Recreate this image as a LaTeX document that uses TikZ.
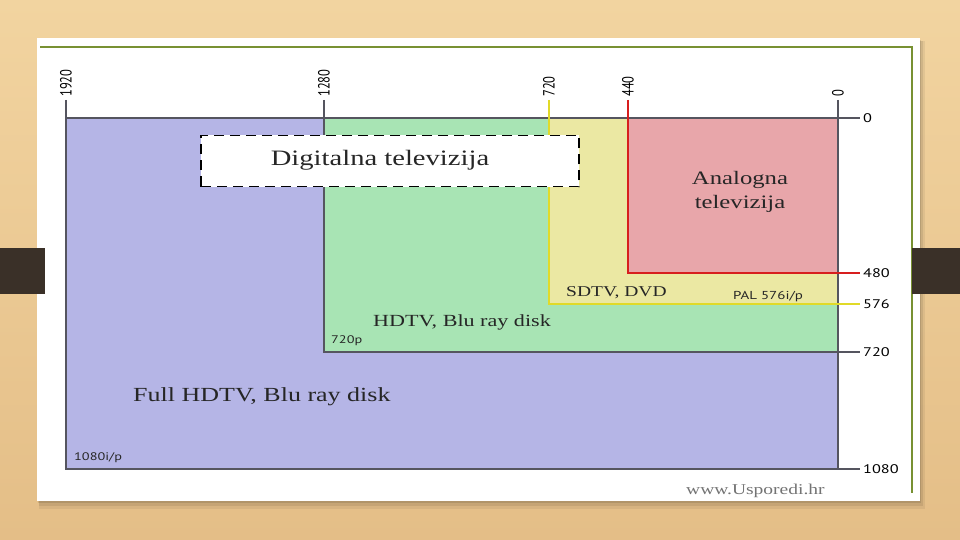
\documentclass[tikz,border=0pt]{standalone}
\usepackage{fontspec}
\setmainfont{Liberation Serif}
\newfontfamily\serifw[FakeStretch=1.3]{Liberation Serif}
\newfontfamily\sansw[FakeStretch=1.3]{PT Sans}
\newfontfamily\sansn{PT Sans}
\definecolor{woodtop}{RGB}{242,212,160}
\definecolor{woodbot}{RGB}{228,190,135}
\definecolor{band}{RGB}{58,48,40}
\definecolor{olive}{RGB}{120,145,50}
\definecolor{fhd}{RGB}{181,181,230}
\definecolor{hd}{RGB}{168,228,180}
\definecolor{sd}{RGB}{235,232,163}
\definecolor{an}{RGB}{232,166,170}
\definecolor{frame}{RGB}{85,85,95}
\definecolor{redl}{RGB}{215,30,30}
\definecolor{yell}{RGB}{225,218,40}
\tikzset{
  darkline/.style={draw=frame, line width=1.1pt},
  redline/.style={draw=redl, line width=1.8pt},
  yline/.style={draw=yell, line width=1.8pt},
  toplab/.style={rotate=90, anchor=west, inner sep=0pt, font=\sansn\fontsize{12.5}{14}\selectfont},
  rightlab/.style={anchor=west, inner sep=0pt, font=\sansw\fontsize{12.5}{14}\selectfont},
  serlab/.style={inner sep=0pt, text=black!85},
  smalllab/.style={anchor=south west, inner sep=0pt, font=\sansw\fontsize{11}{13}\selectfont, text=black!85},
}
\begin{document}
\begin{tikzpicture}[x=1pt,y=-1pt]
\useasboundingbox (0,0) rectangle (960,540);
% background
\shade[top color=woodtop, bottom color=woodbot] (0,0) rectangle (960,540);
% card shadow (soft)
\fill[black, opacity=0.06] (39,41) rectangle (925,509);
\fill[black, opacity=0.08] (39,41) rectangle (923,506);
\fill[black, opacity=0.10] (38,40) rectangle (921,503);
\fill[white] (37,38) rectangle (920,501);
% olive frame lines
\draw[olive, line width=1.2pt] (40,47) -- (912,47) -- (912,493);
% dark bands
\fill[band] (0,248) rectangle (45,294);
\fill[band] (912,248) rectangle (960,294);
% rectangles
\fill[fhd] (66,118) rectangle (838,469);
\fill[hd] (324,118) rectangle (838,352);
\fill[sd] (549,118) rectangle (838,304);
\fill[an] (628,118) rectangle (838,273);
% dark lines
\draw[darkline] (66,100) -- (66,469) -- (860,469);
\draw[darkline] (838,100) -- (838,469);
\draw[darkline] (66,118) -- (860,118);
\draw[darkline] (324,100) -- (324,352) -- (860,352);
\draw[yline] (549,100) -- (549,304) -- (860,304);
\draw[redline] (628,100) -- (628,273) -- (860,273);
% top labels
\node[toplab] (t1920) at (66,97) {\scalebox{1}[1.3]{1920}};
\node[toplab] (t1280) at (324,97) {\scalebox{1}[1.3]{1280}};
\node[toplab] (t720) at (549,97) {\scalebox{1}[1.3]{720}};
\node[toplab] (t440) at (628,97) {\scalebox{1}[1.3]{440}};
\node[toplab] (t0) at (838,97) {\scalebox{1}[1.3]{0}};
% right labels
\node[rightlab] (r0) at (863,118) {0};
\node[rightlab] (r480) at (863,273) {480};
\node[rightlab] (r576) at (863,304) {576};
\node[rightlab] (r720) at (863,352) {720};
\node[rightlab] (r1080) at (863,469) {1080};
% digital box
\node[draw=black, fill=white, dash pattern=on 10pt off 6pt, line width=1.4pt,
      minimum width=378pt, minimum height=51pt, inner sep=0pt] (digbox) at (390,161) {};
\node[serlab, font=\serifw\fontsize{22}{24}\selectfont] (dig) at (380,160) {Digitalna televizija};
% labels
\node[serlab, align=center, font=\serifw\fontsize{19}{24}\selectfont] (analog) at (740,192) {Analogna\\televizija};
\node[serlab, anchor=base west, font=\serifw\fontsize{15}{18}\selectfont] (sdtv) at (566,296) {SDTV, DVD};
\node[smalllab, anchor=base west, font=\sansw\fontsize{11.5}{13}\selectfont] (pal) at (733,299) {PAL 576i/p};
\node[serlab, anchor=base west, font=\serifw\fontsize{17}{20}\selectfont] (hdtv) at (373,326) {HDTV, Blu ray disk};
\node[smalllab, anchor=base west] (p720) at (331,343) {720p};
\node[serlab, anchor=base west, font=\serifw\fontsize{20}{24}\selectfont] (fhdtv) at (133,401) {Full HDTV, Blu ray disk};
\node[smalllab, anchor=base west] (p1080) at (74,460) {1080i/p};
\node[inner sep=0pt, anchor=base west, text=black!55, font=\serifw\fontsize{15}{18}\selectfont] (www) at (686,494) {www.Usporedi.hr};
\end{tikzpicture}
\end{document}
